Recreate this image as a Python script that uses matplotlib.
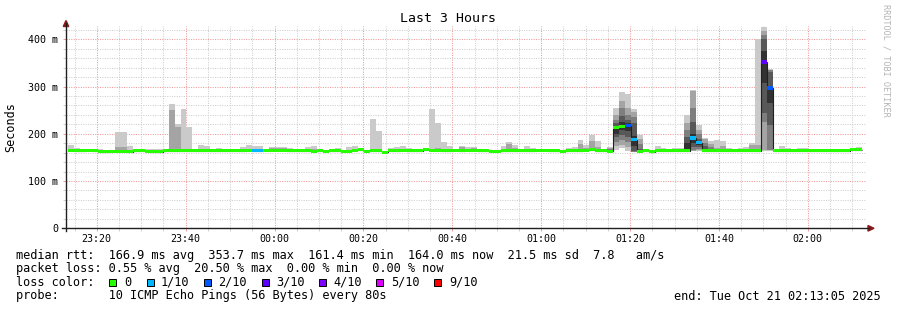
import numpy as np
import matplotlib
matplotlib.use("Agg")
import matplotlib.pyplot as plt
import matplotlib.dates as mdates
from matplotlib.lines import Line2D
from matplotlib.patches import Polygon, Rectangle
from matplotlib.ticker import MultipleLocator, FuncFormatter
from datetime import datetime, timedelta

# ---------------- data ----------------
title = "Last 3 Hours"
graph_start = datetime(2025, 10, 20, 23, 13, 5)
graph_end = datetime(2025, 10, 21, 2, 13, 5)
first_step = datetime(2025, 10, 20, 23, 13, 31)
step_seconds = 80

median_ms = [
    165, 164, 164, 165, 164, 162, 162, 163, 163, 163,
    162, 164, 164, 163, 162, 162, 164, 164, 164, 164,
    164, 164, 164, 164, 164, 164, 164, 164, 164, 164,
    165, 164, 164, 165, 165, 165, 165, 164, 164, 164,
    164, 163, 164, 163, 164, 164, 163, 163, 165, 166,
    163, 164, 164, 161, 164, 164, 165, 164, 164, 164,
    166, 165, 165, 164, 164, 165, 164, 165, 165, 164,
    164, 163, 163, 164, 164, 164, 164, 164, 164, 165,
    165, 164, 164, 163, 164, 164, 164, 165, 166, 164,
    164, 163, 213, 215, 217, 187, 163, 164, 162, 164,
    164, 164, 164, 164, 164, 191, 181, 164, 164, 164,
    164, 164, 164, 164, 164, 164, 164, 352, 297, 164,
    164, 164, 164, 164, 164, 164, 164, 164, 164, 164,
    164, 164, 166, 166,
]

loss_count = [0] * 31 + [1, 1] + [0] * 61 + [2, 1] + [0] * 9 + [1, 1] + [0] * 10 + [3, 2] + [0] * 15

smoke_top1 = [
    177, 170, 168, 166, 168, 168, 163, 163, 204, 203,
    174, 165, 165, 168, 168, 168, 165, 264, 221, 253,
    215, 165, 177, 174, 165, 170, 168, 166, 164, 172,
    177, 174, 174, 165, 172, 172, 172, 170, 165, 168,
    172, 175, 168, 165, 168, 170, 165, 172, 175, 170,
    165, 232, 206, 164, 170, 172, 175, 170, 164, 164,
    167, 253, 223, 182, 175, 166, 175, 173, 172, 168,
    168, 164, 164, 175, 182, 177, 166, 175, 170, 166,
    166, 168, 164, 165, 170, 172, 187, 177, 198, 184,
    166, 173, 255, 289, 285, 253, 198, 164, 163, 175,
    170, 164, 170, 170, 240, 292, 219, 191, 184, 187,
    185, 170, 168, 170, 173, 180, 401, 425, 338, 164,
    175, 170, 166, 170, 170, 166, 166, 168, 164, 168,
    168, 164, 166, 172,
]

smoke_top2 = [
    168, 166, 164, 165, 164, 162, 162, 163, 172, 172,
    162, 164, 164, 163, 162, 162, 164, 251, 215, 166,
    166, 164, 168, 166, 164, 164, 164, 164, 164, 164,
    165, 166, 166, 165, 171, 171, 171, 165, 164, 167,
    165, 167, 164, 164, 164, 167, 163, 164, 165, 166,
    164, 166, 165, 162, 164, 165, 165, 164, 164, 164,
    166, 166, 170, 167, 167, 165, 172, 166, 170, 164,
    164, 163, 163, 167, 178, 170, 164, 165, 164, 165,
    165, 164, 164, 163, 166, 168, 178, 170, 184, 172,
    164, 170, 240, 269, 254, 247, 190, 164, 162, 164,
    164, 164, 164, 164, 223, 291, 208, 189, 178, 170,
    175, 165, 164, 164, 164, 177, 177, 418, 336, 164,
    168, 164, 164, 164, 164, 164, 164, 168, 164, 164,
    164, 164, 166, 168,
]

# inner smoke bands, only where they differ from the median (steps 91..118)
detail_first = 91
detail_top3 = [168, 230, 254, 240, 235, 178, 164, 162, 164, 164, 164, 164, 164, 208,
               255, 200, 180, 172, 164, 164, 164, 164, 164, 164, 164, 164, 410, 335]
detail_top4 = [163, 222, 237, 230, 222, 168, 164, 162, 164, 164, 164, 164, 164, 194,
               226, 190, 175, 164, 164, 164, 164, 164, 164, 164, 164, 164, 400, 330]
detail_top5 = [163, 216, 225, 222, 195, 164, 164, 162, 164, 164, 164, 164, 164, 180,
               200, 183, 165, 164, 164, 164, 164, 164, 164, 164, 164, 164, 375, 300]
detail_bot5 = [163, 200, 209, 205, 175, 163, 164, 162, 164, 164, 164, 164, 164, 164,
               180, 176, 164, 164, 164, 164, 164, 164, 164, 164, 164, 164, 308, 266]
detail_bot4 = [163, 194, 198, 194, 163, 163, 164, 162, 164, 164, 164, 164, 164, 164,
               173, 172, 164, 164, 164, 164, 164, 164, 164, 164, 164, 164, 245, 219]
detail_bot3 = [163, 183, 187, 183, 162, 163, 164, 162, 164, 164, 164, 164, 164, 164,
               166, 168, 164, 164, 164, 164, 164, 164, 164, 164, 164, 164, 224, 166]
detail_bot2 = [163, 174, 176, 172, 162, 162, 164, 162, 164, 164, 164, 164, 164, 163,
               164, 165, 164, 164, 164, 164, 164, 164, 164, 164, 164, 164, 166, 165]
detail_bot1 = [162, 166, 169, 164, 162, 162, 164, 162, 164, 164, 164, 164, 164, 162,
               163, 163, 163, 164, 164, 164, 164, 164, 164, 164, 164, 164, 164, 164]

smoke_colors = ["#cacaca", "#a4a4a4", "#7e7e7e", "#585858", "#323232"]
loss_levels = [0, 1, 2, 3, 4, 5, 9]
loss_labels = ["0", "1/10", "2/10", "3/10", "4/10", "5/10", "9/10"]
loss_colors = ["#26ff00", "#00b8ff", "#0059ff", "#5e00ff", "#7e00ff", "#dd00ff", "#ff0000"]

y_ticks_major = 100
y_ticks_minor = 20
y_max = 427.5

legend_line1 = "median rtt:  166.9 ms avg  353.7 ms max  161.4 ms min  164.0 ms now  21.5 ms sd  7.8   am/s"
legend_line2 = "packet loss: 0.55 % avg  20.50 % max  0.00 % min  0.00 % now"
legend_line3 = "loss color:"
legend_line4 = "probe:       10 ICMP Echo Pings (56 Bytes) every 80s"
end_text = "end: Tue Oct 21 02:13:05 2025"
watermark = "RRDTOOL / TOBI OETIKER"
y_label = "Seconds"

# ---------------- assemble ----------------
med = np.array(median_ms, dtype=float)
n = len(med)
loss = np.array(loss_count)
tops = [np.array(smoke_top1, float), np.array(smoke_top2, float)]
for arr in (detail_top3, detail_top4, detail_top5):
    t = med.copy(); t[detail_first:detail_first + len(arr)] = arr; tops.append(t)
bots = []
for arr in (detail_bot1, detail_bot2, detail_bot3, detail_bot4, detail_bot5):
    b = med.copy(); b[detail_first:detail_first + len(arr)] = arr; bots.append(b)

edges = mdates.date2num([first_step + timedelta(seconds=step_seconds * i) for i in range(n + 1)])

# ---------------- figure ----------------
W, H = 897, 310
MONO = "DejaVu Sans Mono"
plt.rcParams["font.family"] = MONO
fig = plt.figure(figsize=(W / 100, H / 100), dpi=100)
fig.patch.set_facecolor("white")


def fx(px):
    return px / W


def fy(py):
    return 1 - py / H


L, R, T, B = 66, 866, 26.3, 228.3
ax = fig.add_axes([fx(L), fy(B), fx(R) - fx(L), fy(T) - fy(B)])
ax.set_facecolor("white")

for k in range(5):
    ax.stairs(tops[k], edges, baseline=bots[k], fill=True, color=smoke_colors[k],
              linewidth=0, zorder=2)

ax.stairs(med, edges, baseline=None, color="#202020", linewidth=0.8, zorder=3)

sw = 3.3
for lvl, col in zip(loss_levels, loss_colors):
    mask = loss == lvl
    if not mask.any():
        continue
    hi = np.where(mask, med + sw, np.nan)
    lo = np.where(mask, med - sw, np.nan)
    ax.stairs(hi, edges, baseline=lo, fill=True, color=col, linewidth=0, zorder=4)

ax.set_xlim(mdates.date2num(graph_start), mdates.date2num(graph_end))
ax.set_ylim(0, y_max)

ax.xaxis.set_major_locator(mdates.MinuteLocator(byminute=[0, 20, 40]))
ax.xaxis.set_minor_locator(mdates.MinuteLocator(byminute=range(0, 60, 5)))
ax.xaxis.set_major_formatter(mdates.DateFormatter("%H:%M"))
ax.yaxis.set_major_locator(MultipleLocator(y_ticks_major))
ax.yaxis.set_minor_locator(MultipleLocator(y_ticks_minor))
ax.yaxis.set_major_formatter(FuncFormatter(lambda v, p: "0" if v == 0 else f"{int(v)} m"))

ax.set_axisbelow(True)
ax.grid(which="minor", color="#cfcfcf", linestyle=(0, (1, 1.3)), linewidth=0.75)
ax.grid(which="major", color="#f09a9a", linestyle=(0, (1, 1.3)), linewidth=0.75)

for s in ax.spines.values():
    s.set_visible(False)
ax.tick_params(which="both", direction="out", length=2.2, width=0.7,
               labelsize=7.2, labelcolor="black", pad=1.8)
ax.tick_params(which="major", color="#f09a9a")
ax.tick_params(which="minor", color="#cfcfcf")
ax.tick_params(axis="y", which="both", pad=3.5)

# axis lines with arrows
axis_col = "#202020"
fig.add_artist(Line2D([fx(62), fx(869)], [fy(B), fy(B)], color=axis_col, lw=1.0))
fig.add_artist(Line2D([fx(L), fx(L)], [fy(231), fy(23)], color=axis_col, lw=1.0))
arrow_col = "#8b1a1a"
fig.add_artist(Polygon([[fx(63.3), fy(26.5)], [fx(68.7), fy(26.5)], [fx(66), fy(20.5)]],
                       closed=True, color=arrow_col, transform=fig.transFigure))
fig.add_artist(Polygon([[fx(868), fy(225.5)], [fx(868), fy(231.1)], [fx(874), fy(228.3)]],
                       closed=True, color=arrow_col, transform=fig.transFigure))

# texts
fig.text(fx(448), fy(19), title, ha="center", va="center", fontsize=9.5, family=MONO)
fig.text(fx(11), fy(127), y_label, rotation=90, ha="center", va="center", fontsize=8.5, family=MONO)
fig.text(fx(886), fy(4), watermark, rotation=270, ha="center", va="top", fontsize=6.1,
         color="#b4b4b4", family=MONO)

LS = 8.55
fig.text(fx(16), fy(255), legend_line1, ha="left", va="center", fontsize=LS, family=MONO)
fig.text(fx(16), fy(268.3), legend_line2, ha="left", va="center", fontsize=LS, family=MONO)
fig.text(fx(16), fy(282.3), legend_line3, ha="left", va="center", fontsize=LS, family=MONO)
fig.text(fx(16), fy(296), legend_line4, ha="left", va="center", fontsize=LS, family=MONO)
fig.text(fx(880.5), fy(296), end_text, ha="right", va="center", fontsize=LS, family=MONO)

box_x = [109, 147, 204, 261.5, 318.5, 376, 433.5]
lab_x = [124, 160.7, 218, 276, 333, 390.7, 449]
for bx, lx, col, lab in zip(box_x, lab_x, loss_colors, loss_labels):
    fig.add_artist(Rectangle((fx(bx), fy(286.2)), 7 / W, 7 / H, facecolor=col,
                             edgecolor="black", linewidth=0.7, transform=fig.transFigure))
    fig.text(fx(lx), fy(282.3), lab, ha="left", va="center", fontsize=LS, family=MONO)

fig.savefig("out.png", dpi=100, facecolor="white")
